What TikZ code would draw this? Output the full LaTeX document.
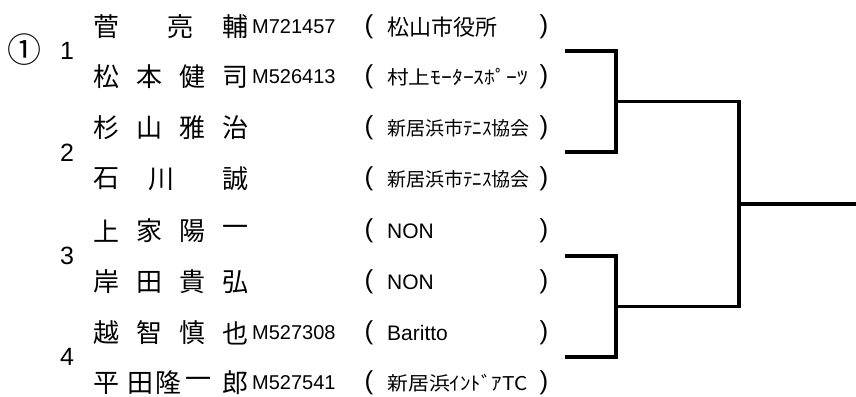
\documentclass[tikz,border=0pt]{standalone}
\usepackage{fontspec}
\usepackage{graphicx}
\setmainfont{Liberation Sans}
\newfontfamily\jp{Noto Sans CJK JP}
\begin{document}
\begin{tikzpicture}[x=1pt,y=-1pt,
  nm/.style={inner sep=0pt,font=\jp\fontsize{26}{28}\selectfont},
  num/.style={inner sep=0pt,font=\fontsize{25}{28}\selectfont},
  idt/.style={inner sep=0pt,anchor=west,font=\fontsize{20}{24}\selectfont},
  par/.style={inner sep=0pt,font=\fontsize{26}{28}\selectfont},
  orgj/.style={inner sep=0pt,anchor=west,font=\jp\fontsize{22}{24}\selectfont},
  orgs/.style={inner sep=0pt,anchor=west,font=\jp\fontsize{19}{22}\selectfont},
  orgl/.style={inner sep=0pt,anchor=west,font=\fontsize{21}{24}\selectfont},
  br/.style={line width=3.5pt}]
\useasboundingbox (0,0) rectangle (856,396);
% numbers
\node[inner sep=0pt,font=\jp\fontsize{34}{36}\selectfont] (circ) at (25,50) {①};
\node[num] (g1) at (67,51) {1};
\node[num] (g2) at (67,153) {2};
\node[num] (g3) at (67,256) {3};
\node[num] (g4) at (67,357) {4};
% names
\foreach \x/\c [count=\k] in {106/菅,180/亮,235/輔} \node[nm] (r1c\k) at (\x,27) {\c};
\foreach \x/\c [count=\k] in {106/松,149/本,192/健,235/司} \node[nm] (r2c\k) at (\x,77) {\c};
\foreach \x/\c [count=\k] in {106/杉,149/山,192/雅,235/治} \node[nm] (r3c\k) at (\x,128) {\c};
\foreach \x/\c [count=\k] in {106/石,161/川,235/誠} \node[nm] (r4c\k) at (\x,179) {\c};
\foreach \x/\c [count=\k] in {106/上,149/家,192/陽,235/一} \node[nm] (r5c\k) at (\x,231) {\c};
\foreach \x/\c [count=\k] in {106/岸,149/田,192/貴,235/弘} \node[nm] (r6c\k) at (\x,282) {\c};
\foreach \x/\c [count=\k] in {106/越,149/智,192/慎,235/也} \node[nm] (r7c\k) at (\x,333) {\c};
\foreach \x/\c [count=\k] in {106/平,140/田,168/隆,198/一,235/郎} \node[nm] (r8c\k) at (\x,383) {\c};
% ids
\node[idt] (id1) at (252,27) {M721457};
\node[idt] (id2) at (252,77) {M526413};
\node[idt] (id7) at (252,333) {M527308};
\node[idt] (id8) at (252,383) {M527541};
% parentheses
\foreach \y [count=\k] in {27,77,128,179,231,282,333,383} {
  \node[par] (lp\k) at (369,\y) {(};
  \node[par] (rp\k) at (544,\y) {)};
}
% organisations
\node[orgj] (o1) at (387,27) {松山市役所};
\node[orgs] (o2) at (387,77) {\scalebox{1.14}[1]{村上ﾓｰﾀｰｽﾎﾟｰﾂ}};
\node[orgs] (o3) at (387,128) {新居浜市ﾃﾆｽ協会};
\node[orgs] (o4) at (387,179) {新居浜市ﾃﾆｽ協会};
\node[orgl] (o5) at (387,231) {NON};
\node[orgl] (o6) at (387,282) {NON};
\node[orgl] (o7) at (387,333) {Baritto};
\node[orgs] (o8) at (387,383) {\scalebox{1.1}[1]{新居浜ｲﾝﾄﾞｱTC}};
% bracket
\coordinate (p1) at (565,51);
\coordinate (q1) at (565,152);
\coordinate (s1) at (616,101.5);
\coordinate (p2) at (565,256);
\coordinate (q2) at (565,357);
\coordinate (s2) at (616,306.5);
\coordinate (w) at (739,204);
\coordinate (out) at (856,204);
\draw[br] (p1) -| (s1) |- (q1);
\draw[br] (p2) -| (s2) |- (q2);
\draw[br] (s1) -| (w) |- (s2);
\draw[br] (w) -- (out);
\end{tikzpicture}
\end{document}
